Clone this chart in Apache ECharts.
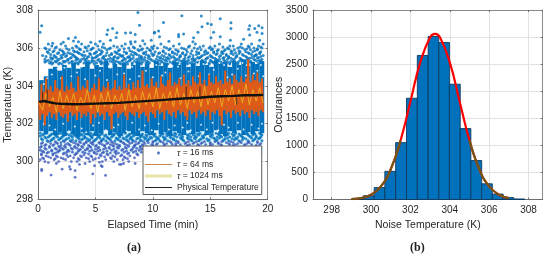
<!DOCTYPE html>
<html><head><meta charset="utf-8">
<style>html,body{margin:0;padding:0;background:#fff}#c{width:550px;height:259px}</style>
<script src="https://cdn.jsdelivr.net/npm/echarts@6/dist/echarts.min.js"></script>
</head><body><div id="c"></div>
<script>
// ---------- panel (a): values ----------
// solid part of the 16 ms cloud, one pair of edges per 0.4 min
const coreStep = 0.4;
const coreHigh = [304.3,304.5,304.9,305.0,304.8,305.1,304.95,305.2,304.9,305.0,305.25,304.9,305.1,305.0,305.3,304.95,305.15,305.0,305.2,304.9,305.1,305.25,305.0,305.15,304.95,305.3,305.05,305.2,304.95,305.25,305.1,305.35,305.0,305.2,305.05,305.3,305.1,305.0,305.35,305.15,305.25,305.0,305.3,305.1,305.4,305.05,305.25,305.15,305.3];
const coreLow = [301.6,301.45,301.6,301.4,301.55,301.35,301.6,301.45,301.3,301.55,301.4,301.6,301.35,301.5,301.65,301.4,301.55,301.35,301.5,301.6,301.45,301.35,301.6,301.5,301.4,301.65,301.45,301.55,301.35,301.6,301.5,301.4,301.65,301.45,301.55,301.6,301.4,301.5,301.65,301.45,301.35,301.6,301.5,301.65,301.4,301.55,301.45,301.6,301.5];
// gaps in the solid part
const gapPoints = [[1.2,304.6],[2.3,304.95],[3.4,304.7],[4.6,305.05],[5.4,304.8],[6.3,304.95],[7.5,304.65],[8.2,305.0],[9.4,304.8],[10.3,305.1],[11.1,304.7],[12.2,305.0],[13.1,304.75],[14.4,305.15],[15.3,304.85],[16.2,305.1],[17.4,304.9],[18.3,305.15],[19.1,304.8],[0.8,304.4],[2.9,304.5],[6.9,304.6],[10.8,304.55],[14.9,304.6],[18.8,304.65],
 [1.7,304.9],[3.8,305.0],[5.0,304.55],[7.1,305.05],[8.8,304.5],[9.9,305.0],[11.7,305.05],[12.7,304.5],[13.8,305.15],[15.8,305.2],[16.9,304.6],[17.8,305.2],[19.4,305.1],[0.5,304.1],[2.0,304.4],[4.1,304.35],[6.0,304.3],[8.0,304.35],[10.0,304.45],[12.4,304.4],[14.0,304.5],[16.5,304.45],[18.1,304.55],[19.6,304.5],
 [0.5,302.0],[1.5,301.7],[2.7,301.6],[3.8,301.75],[4.2,301.55],[5.9,301.65],[6.6,301.8],[7.7,301.6],[8.8,301.7],[9.9,301.65],[11.4,301.7],[12.6,301.8],[13.3,301.65],[14.7,301.7],[15.7,301.65],[16.6,301.8],[17.9,301.7],[19.2,301.75],
 [1.0,301.9],[2.2,302],[3.2,301.85],[4.8,301.9],[5.3,302.05],[7.0,301.95],[8.2,302.05],[9.3,301.9],[10.5,302],[11.9,301.9],[13.0,302.05],[14.2,301.95],[15.2,302.05],[16.2,301.95],[17.4,302.05],[18.6,301.95],[19.5,302]];
const upperTemps = [305.2,305.3,305.4,305.5,305.6,305.7,305.8,305.9,306.0,306.1,306.2,
 305.15,305.25,305.35,305.45,305.55,305.65,305.75,305.85,305.95,306.05];
const upperTimes = [
 [1.0,1.3,1.9,2.7,3.2,3.4,4.0,4.5,5.1,5.6,5.9,6.7,7.1,7.5,8.2,8.9,9.4,9.7,10.4,11.0,11.7,12.2,12.9,13.2,13.8,14.5,14.9,15.3,16.0,16.7,17.4,17.8,18.1,18.7,19.3],
 [0.7,1.5,2.2,2.4,3.0,3.7,4.4,4.9,5.5,6.3,6.8,7.3,7.9,8.4,8.7,9.5,10.1,10.7,11.2,11.8,12.5,13.0,13.6,14.2,14.4,15.1,15.7,16.3,16.8,17.5,18.0,18.5,19.1,19.4],
 [0.6,1.2,1.8,2.6,3.5,3.8,4.2,5.3,5.8,6.1,6.5,7.6,8.1,8.6,9.1,9.8,10.3,10.9,11.4,12.1,12.7,13.4,13.7,14.6,15.5,15.8,16.5,17.0,17.7,18.3,18.8,19.5],
 [1.1,1.6,2.1,2.9,3.3,4.3,4.7,5.0,5.7,6.6,7.0,7.8,8.0,9.0,9.3,10.6,11.3,11.6,12.3,13.1,13.9,14.1,14.8,15.2,16.2,16.6,17.2,18.2,18.6,19.2],
 [0.4,1.4,2.0,2.5,3.1,3.9,4.1,5.2,5.9,6.2,7.2,7.4,8.3,8.8,9.6,10.0,10.8,11.5,12.4,12.8,13.5,14.3,15.0,15.9,16.4,17.3,17.9,18.9,19.0,19.6],
 [1.7,2.3,2.8,3.6,4.5,4.9,5.5,6.4,6.9,7.7,8.5,9.2,9.9,10.5,11.1,11.9,12.6,13.3,14.0,14.7,15.6,16.1,16.8,17.5,18.4,19.3],
 [0.8,1.3,2.2,3.2,3.4,4.0,5.1,5.6,6.7,7.5,8.2,9.4,10.2,10.9,11.7,12.2,13.0,13.8,14.5,15.3,16.0,16.9,17.6,18.1,18.7,19.4],
 [1.0,1.9,2.7,3.7,4.6,5.3,6.0,7.1,8.7,9.0,9.7,11.4,12.0,12.9,14.2,15.1,15.7,16.3,17.1,18.0,18.5,19.1],
 [0.6,1.5,3.0,4.2,4.8,5.8,6.3,7.9,8.4,9.5,10.4,11.2,12.5,13.6,14.9,16.5,17.4,17.8,18.8,19.5],
 [1.2,2.4,3.3,4.4,5.2,6.6,7.3,8.9,10.1,11.8,13.2,14.4,15.4,16.7,17.0,18.3,19.2],
 [0.9,2.0,3.8,5.0,5.7,7.6,8.1,9.3,10.7,12.3,13.7,15.8,17.7,18.6,19.6],
 [1.2,1.8,2.1,3.0,3.5,4.3,4.9,5.5,6.1,6.6,7.2,7.8,8.2,9.0,9.5,10.3,10.6,11.3,12.1,12.5,13.0,13.7,14.2,14.9,15.8,16.3,16.7,17.4,18.3,18.7,19.2],
 [0.6,1.1,1.6,2.3,2.9,3.6,4.2,4.7,5.4,6.0,6.5,7.0,7.7,8.6,9.1,9.6,10.2,10.8,11.5,11.9,12.7,13.4,13.9,14.6,15.2,15.9,16.5,17.0,17.9,18.5,19.5],
 [0.9,1.7,2.6,3.3,4.1,4.7,5.2,5.9,6.6,7.4,8.0,8.9,9.3,9.9,10.5,11.1,12.0,12.3,13.1,13.6,14.3,15.0,15.6,16.2,17.1,17.7,18.2,18.9,19.3],
 [1.3,2.0,2.8,3.4,4.0,4.8,5.6,6.3,6.9,7.5,8.3,8.8,9.6,10.7,11.2,11.9,12.8,13.5,14.0,14.7,15.4,16.1,16.8,17.6,18.4,19.1],
 [0.7,1.5,2.4,3.2,4.4,5.1,5.7,6.7,7.3,7.9,9.0,9.7,10.4,11.0,11.8,12.4,13.2,14.2,15.1,15.8,16.6,17.3,18.1,18.8,19.4],
 [1.1,2.2,3.0,3.8,4.6,5.4,6.4,7.1,8.1,8.6,9.4,10.1,11.4,12.1,12.9,13.8,14.5,15.5,16.4,17.0,17.8,18.6,19.0],
 [0.9,1.8,2.6,3.5,5.0,6.0,6.8,7.7,8.4,9.2,10.6,11.7,12.6,14.0,14.8,15.3,16.0,17.2,18.3,19.3],
 [1.4,2.1,3.1,4.3,5.5,7.0,8.0,8.8,9.8,10.9,12.2,13.4,14.6,15.6,16.2,16.8,17.5,18.9],
 [0.7,2.5,3.6,4.7,6.2,7.5,9.1,10.0,11.5,12.7,13.9,15.2,16.6,18.2,19.1],
 [1.6,3.4,4.1,5.6,6.9,8.3,9.9,11.0,13.1,14.1,15.0,16.1,17.6,18.4,19.4]
];
const lowerTemps = [301.5,301.4,301.3,301.2,301.1,301.0,300.9,300.8,300.7,300.6,300.5,300.4,300.3,300.2,300.1,300.0,
 301.45,301.35,301.25,301.15,301.05,300.95,300.85,300.75,300.65,300.55,300.45,300.35,300.25,300.15];
const lowerTimes = [
 [0.2,0.7,1.4,1.8,2.0,2.9,3.5,4.0,4.6,5.0,5.5,6.3,6.8,7.0,7.6,8.2,8.7,9.6,10.0,10.8,11.2,11.9,12.4,12.8,13.6,14.1,14.9,15.5,16.2,16.6,17.2,17.9,18.2,18.8,19.3],
 [0.4,1.1,1.5,2.3,2.7,3.2,3.8,4.5,4.8,5.4,5.9,6.6,7.3,7.9,8.4,9.0,9.4,10.1,10.7,11.4,11.7,12.3,13.0,13.5,14.0,14.5,15.2,15.8,16.5,17.1,17.6,18.3,18.7,19.5],
 [0.6,0.9,1.7,2.1,3.0,3.4,4.1,4.7,5.2,6.0,6.4,7.1,7.7,8.1,8.9,9.2,9.8,10.3,10.9,11.5,12.1,12.6,13.3,13.8,14.4,15.1,15.6,16.0,16.7,17.4,17.8,18.5,19.0,19.4],
 [0.3,1.3,1.9,2.5,3.6,3.9,4.3,5.1,5.7,6.2,6.9,7.5,8.0,8.6,9.3,9.7,10.5,11.1,11.8,12.5,13.1,13.7,14.2,14.7,15.4,16.3,16.9,17.3,18.1,18.9,19.2],
 [0.8,1.1,2.2,2.8,3.3,4.4,4.9,5.5,5.9,6.7,7.2,7.8,8.3,9.0,9.5,10.2,10.6,11.3,12.0,12.7,13.4,14.0,14.8,15.5,16.1,16.6,17.5,18.3,18.7,19.5],
 [0.4,1.6,2.0,3.1,3.7,4.2,4.6,5.3,6.1,6.5,7.4,8.2,8.8,9.6,10.0,10.9,11.6,12.2,12.9,13.6,14.3,15.0,15.7,16.4,17.0,17.7,18.4,19.1],
 [0.7,1.4,2.4,2.7,3.5,4.0,4.8,5.6,6.3,6.9,7.6,8.5,9.1,9.9,10.3,11.0,11.7,12.4,13.2,13.9,14.6,15.2,15.9,16.7,17.2,18.0,18.6,19.3],
 [0.3,1.0,1.8,2.3,3.2,3.8,4.5,5.0,5.8,6.6,7.1,7.9,8.4,8.9,9.4,10,11,12,13,14,15,16,17,18,19],
 [0.6,1.5,2.1,2.9,3.4,4.3,5.2,5.9,6.2,7.0,7.7,8.6,9.2],
 [0.2,1.2,1.9,2.6,3.6,4.1,4.7,5.4,6.4,7.3,8.1,8.8],
 [0.5,0.9,1.7,2.5,3.0,3.9,4.9,5.7,6.7,7.5,8.3,9.0],
 [0.3,1.3,2.2,3.3,4.4,5.1,6.0,6.8,7.8,8.6],
 [0.7,1.6,2.8,3.7,4.6,5.5,6.5,7.2,8.0],
 [0.4,1.1,2.0,3.1,4.2,5.3,6.3,7.6,8.4],
 [0.2,1.4,2.4,3.6,4.8,5.9,6.9,7.4],
 [0.6,1.8,2.9,3.4,4.5,5.6,6.6,7.9],
 [0.5,1.2,1.7,2.5,3.1,3.7,4.3,4.9,5.6,6.2,6.6,7.3,8.0,8.5,9.1,9.7,10.2,10.9,11.3,12.0,12.6,13.2,13.9,14.6,15.1,15.7,16.4,16.9,17.5,18.2,18.9,19.4],
 [0.2,1.0,1.6,2.2,2.9,3.3,4.0,4.6,5.3,5.8,6.5,7.1,7.8,8.3,9.0,9.5,10.1,10.6,11.2,11.9,12.5,13.1,13.7,14.3,15.0,15.9,16.3,17.0,17.7,18.4,19.0],
 [0.7,1.4,2.0,2.7,3.5,4.1,4.7,5.4,6.1,6.8,7.4,8.1,8.7,9.4,9.9,10.4,11.0,11.6,12.4,13.0,13.6,14.4,15.3,15.8,16.5,17.2,17.9,18.6,19.3],
 [0.4,1.2,1.8,2.4,3.0,3.8,4.5,5.0,5.6,6.3,7.0,7.7,8.2,8.9,9.6,10.3,11.0,11.8,12.6,13.3,14.1,14.9,15.6,16.2,17.1,17.8,18.8],
 [0.9,1.5,2.3,2.9,3.6,4.2,4.8,5.5,6.4,7.2,7.9,8.5,9.2,10.0,10.7,11.5,12.2,13.1,13.8,14.5,15.4,16.0,16.8,17.6,18.3,19.1],
 [0.3,1.1,1.7,2.6,3.3,4.0,4.7,5.4,6.0,6.7,7.5,8.0,8.7,9.3,10.4,11.2,12.0,12.8,13.5,14.2,15.0,15.7,16.6,17.4,18.2,19.4],
 [0.6,1.3,2.0,2.8,3.5,4.4,5.1,5.8,6.5,7.1,7.8,8.4,9.1,10,11,12,13,14,15,16,17,18,19],
 [0.2,1.0,1.9,2.4,3.2,3.9,4.6,5.3,6.2,6.9,7.6,8.3,8.9],
 [0.7,1.6,2.2,3.0,3.7,4.3,5.0,5.7,6.6,7.4,8.2,9.0],
 [0.4,1.2,1.8,2.7,3.5,4.5,5.2,6.0,6.8,7.7,8.5],
 [0.8,1.5,2.3,3.4,4.1,4.9,5.6,6.3,7.0,7.9],
 [0.3,1.3,2.5,3.2,4.0,5.4,6.1,7.3,8.7],
 [0.9,1.7,2.6,3.8,4.7,5.8,6.7,7.5],
 [0.5,1.5,2.2,3.5,4.4,5.0,6.4,7.8]
];
const outliersHigh = [[8.7,307.87],[0.32,307.17],[0.18,306.82],[8.84,307.2],[6.08,306.94],[6.5,307.03],[6,306.71],[6.87,306.8],[7.62,306.78],[8.06,306.8],[8.46,306.71],[10.15,306.82],[3.26,306.55],[2.65,306.5],[3.09,306.36],[3.52,306.33],[1.28,306.24],[6.8,306.55],[6.31,306.41],[8.06,306.33],[8.46,306.33],[9.13,306.38],[9.86,306.41],[12.53,307.69],[14.22,307.68],[10.93,307.34],[14.77,307.29],[15.09,307.24],[14.28,307.12],[15.87,307.54],[16.8,307.33],[16.8,307.03],[13.93,306.82],[15.29,306.82],[18.43,307.17],[19.22,307.17],[18.87,307.03],[19.51,307.06],[18.35,306.99],[19.07,306.82],[18.43,306.68],[19.51,306.76],[10.5,306.89],[10.12,306.78],[12.24,306.71],[12.68,306.73],[12.24,306.59],[10.58,306.59],[15.06,306.54],[15.87,306.59],[16.75,306.41],[13.55,306.54],[13.49,306.33],[17.9,306.45],[19.3,306.4],[11.4,306.35],[4.6,306.3],[2.2,306.3],[5.4,306.35]];
const outliersLow = [[1.14,299.29],[0.32,299.59],[0.32,299.52],[2.1,299.6],[2.74,299.73],[2.82,299.6],[3.23,299.52],[3.23,299.17],[4.77,299.35],[5.88,299.27],[4.92,299.78],[5.5,299.78],[5.59,299.73],[3.61,299.85],[7.24,299.85],[7.45,299.9],[7.1,299.85],[8.46,299.9],[5.35,299.96],[1.6,299.9],[0.9,299.95],[4.1,299.9]];

const orangeStep = 0.1;
const orangeTemps = [303.2,302.2,304.1,302.5,303.7,301.9,304.4,302.4,303.8,302.6,304.0,302.3,303.7,302.5,304.3,302.2,303.9,302.6,303.8,302.4,
 304.5,302.3,303.7,302.5,304.0,302.1,303.8,302.6,304.2,302.4,303.9,302.5,303.7,302.2,304.5,302.6,303.8,302.3,304.0,302.5,
 303.9,302.4,304.3,302.6,303.7,302.0,303.9,302.5,304.1,302.3,303.8,302.6,304.4,302.4,303.7,302.5,304.0,302.2,303.9,302.6,
 304.2,302.4,303.8,301.7,303.9,302.5,304.3,302.6,303.8,302.3,304.0,302.5,303.8,302.6,304.6,302.4,303.9,302.2,304.1,302.6,
 303.8,302.5,304.2,302.4,303.9,302.6,304.3,302.3,303.9,302.5,304.8,302.6,304.0,302.4,304.1,302.1,303.9,302.6,304.4,302.5,
 304.0,302.3,304.2,302.7,303.9,302.5,304.5,302.6,304.1,302.2,304.0,302.7,304.3,302.5,304.7,302.4,304.0,302.6,304.2,302.3,
 304.1,302.7,304.4,302.5,304.0,302.6,304.6,302.4,304.1,302.2,304.3,302.7,304.0,302.5,304.5,302.6,304.2,302.3,304.1,302.7,
 304.7,302.5,304.1,302.6,304.3,302.4,304.0,302.7,304.6,302.2,304.2,302.6,304.1,302.5,304.5,302.7,304.2,302.4,304.3,301.9,
 304.1,302.7,304.8,302.5,304.2,302.6,304.4,302.3,304.1,302.7,304.6,302.5,304.3,302.6,304.2,302.4,304.5,302.7,304.2,302.5,
 304.4,302.6,305.4,302.3,304.2,302.7,304.6,302.5,304.3,302.6,304.7,302.4,304.2,302.7,304.4,302.6];
const yellowStep = 0.3;
const yellowTemps = [303.1,302.7,303.6,302.9,303.4,302.6,303.7,302.8,303.5,302.9,303.6,302.7,303.4,303.0,303.8,302.8,303.5,302.6,303.6,302.9,
 303.7,302.8,303.5,303.0,303.6,302.7,303.8,302.9,303.5,302.8,303.7,303.0,303.6,302.9,303.9,302.8,303.6,303.1,303.7,302.9,
 303.9,303.0,303.6,302.8,303.8,303.1,303.7,302.9,304.0,303.0,303.7,303.1,303.9,302.9,303.8,303.2,304.0,303.0,303.8,303.1,
 304.1,303.0,303.8,303.2,303.9,303.1];
const blackTimes = [0.1,0.5,1.0,1.5,2,3,4,5,6,7,8,9,10,11,12,13,14,15,16,17,18,19,19.6];
const blackTemps = [303.15,303.2,303.13,303.07,303.05,303.03,303.04,303.06,303.08,303.1,303.14,303.18,303.22,303.26,303.3,303.34,303.37,303.42,303.45,303.47,303.5,303.5,303.52];
// short excursions of the physical temperature: [min, from K, to K]
const blackSpikes = [[0.4,303.2,303.7],[0.8,303.15,303.8],[12.9,303.33,303.95],[14.1,303.38,303.95],[17.3,303.48,303.0]];

// ---------- panel (b) ----------
const binEdges = [299.07,299.61,300.16,300.7,301.25,301.8,302.35,302.9,303.44,303.98,304.53,305.07,305.62,306.16,306.71,307.25,307.8];
const binCounts = [20,70,220,520,1050,1870,2660,3010,2900,2130,1310,720,290,100,35,10];
const fitTemps = [299,299.5,300,300.5,301,301.5,302,302.5,303,303.25,303.5,304,304.5,305,305.5,306,306.5,307];
const fitCounts = [7,27,88,241,559,1092,1810,2533,2996,3060,2996,2533,1810,1092,559,241,88,27];

const xTicksB = [298,300,302,304,306,308];
const ink = '#262626', frame = '#6e6e6e', gridCol = '#e2e2e2', font = 'Liberation Sans';
const expand = (temps, times) => temps.flatMap((T, i) => times[i].map(t => [t, T]));
const upperPts = expand(upperTemps, upperTimes).concat(outliersHigh);
const lowerAll = expand(lowerTemps, lowerTimes);
const lowerBlue = lowerAll.filter(p => p[1] >= 301.1);
const lowerIndigo = lowerAll.filter(p => p[1] < 301.1).concat(outliersLow);
const coreBand = coreHigh.map((h, i) => [+(0.1 + i * coreStep).toFixed(2), +(0.1 + (i + 1) * coreStep).toFixed(2), coreLow[i], h]);

const chart = echarts.init(document.getElementById('c'), null, {renderer: 'canvas'});
const frameAxis = (o) => Object.assign({
  axisLine: {show: true, onZero: false, lineStyle: {color: frame, width: 1}},
  axisTick: {show: true, inside: true, length: 2, lineStyle: {color: frame}},
  axisLabel: {color: ink, fontSize: 10, fontFamily: font, margin: 5, formatter: v => String(v)},
  splitLine: {show: true, lineStyle: {color: gridCol, width: 1}},
  nameTextStyle: {color: ink, fontSize: 10.5, fontFamily: font},
  nameLocation: 'middle', nameMoveOverlap: false
}, o);
const mirror = (o) => Object.assign({
  axisLine: {show: true, onZero: false, lineStyle: {color: '#8a8a8a', width: 1}},
  axisTick: {show: true, inside: true, length: 2, lineStyle: {color: frame}},
  axisLabel: {show: false}, splitLine: {show: false}
}, o);
const segRender = (params, api) => {
  const a = api.coord([api.value(0), api.value(2)]), b = api.coord([api.value(1), api.value(3)]);
  return {type: 'rect', shape: {x: a[0], y: b[1], width: b[0] - a[0], height: a[1] - b[1]},
    style: {fill: api.style().fill, stroke: api.style().stroke, lineWidth: api.style().lineWidth}};
};
const seqX = (vals, step) => vals.map((v, i) => [+(0.1 + i * step).toFixed(2), v]);
const tauRich = {t: {fontFamily: 'Liberation Serif', fontStyle: 'italic', fontSize: 9.5, color: ink}};
const ext = 'M0 0h.01v.01zM27 10h.01v.01z';

chart.setOption({
  animation: false,
  backgroundColor: '#fff',
  grid: [{left: 38, top: 10, width: 229.7, height: 189.5}, {left: 313, top: 10, width: 229.7, height: 189.5}],
  xAxis: [
    frameAxis({gridIndex: 0, type: 'value', min: 0, max: 20, interval: 5, name: 'Elapsed Time (min)', nameGap: 20}),
    frameAxis({gridIndex: 1, type: 'value', min: 297.05, max: 308.72, name: 'Noise Temperature (K)', nameGap: 20,
      axisTick: {show: true, inside: true, length: 2, lineStyle: {color: frame}, customValues: xTicksB},
      axisLabel: {color: ink, fontSize: 10, fontFamily: font, margin: 6, customValues: xTicksB, formatter: v => String(v)}}),
    mirror({gridIndex: 0, type: 'value', position: 'top', min: 0, max: 20, interval: 5}),
    mirror({gridIndex: 1, type: 'value', position: 'top', min: 297.05, max: 308.72,
      axisTick: {show: true, inside: true, length: 2, lineStyle: {color: frame}, customValues: xTicksB}})
  ],
  yAxis: [
    frameAxis({gridIndex: 0, type: 'value', min: 298, max: 308, interval: 2, name: 'Temperature (K)', nameGap: 24}),
    frameAxis({gridIndex: 1, type: 'value', min: 0, max: 3500, interval: 500, name: 'Occurances', nameGap: 28}),
    mirror({gridIndex: 0, type: 'value', position: 'right', min: 298, max: 308, interval: 2}),
    mirror({gridIndex: 1, type: 'value', position: 'right', min: 0, max: 3500, interval: 500})
  ],
  legend: {
    left: 143, top: 146, orient: 'vertical', padding: [2, 3, 2, 2], itemGap: 1.5, itemWidth: 27, itemHeight: 10,
    backgroundColor: '#fff', borderColor: '#5a5a5a', borderWidth: 1, borderRadius: 0,
    textStyle: {color: ink, fontSize: 8.5, fontFamily: font, rich: tauRich},
    formatter: n => n.replace('τ', '{t|τ}'),
    data: [
      {name: 'τ = 16 ms', icon: 'path://' + ext + 'M12 5a1.5 1.5 0 1 0 3 0a1.5 1.5 0 1 0 -3 0z', itemStyle: {color: '#2f55b5'}},
      {name: 'τ = 64 ms', icon: 'path://' + ext + 'M0 4.5h27v1h-27z', itemStyle: {color: '#c9874f'}},
      {name: 'τ = 1024 ms', icon: 'path://' + ext + 'M0 3.5h27v3h-27z', itemStyle: {color: '#e8e4a6'}},
      {name: 'Physical Temperature', icon: 'path://' + ext + 'M0 4.4h27v1.2h-27z', itemStyle: {color: '#222'}}
    ]
  },
  series: [
    {type: 'custom', name: 'core', xAxisIndex: 0, yAxisIndex: 0, silent: true, z: 1, renderItem: segRender, data: coreBand,
      itemStyle: {color: '#0072BD'}, encode: {x: [0, 1], y: [2, 3]},
      markArea: {silent: true, itemStyle: {color: '#dff8fc'}, data: [[{coord: [0.1, 300.4]}, {coord: [19.6, 301.6]}]]}},
    {type: 'scatter', name: 'τ = 16 ms', xAxisIndex: 0, yAxisIndex: 0, z: 2, symbolSize: 3, itemStyle: {color: '#0072BD'}, data: upperPts.concat(lowerBlue)},
    {type: 'scatter', name: 'indigo', xAxisIndex: 0, yAxisIndex: 0, z: 2, symbolSize: 2.8, itemStyle: {color: '#3a58ba'}, data: lowerIndigo},
    {type: 'scatter', name: 'gaps', xAxisIndex: 0, yAxisIndex: 0, silent: true, z: 2.5, symbolSize: 2, itemStyle: {color: '#fff'}, data: gapPoints},
    {type: 'line', name: 'τ = 64 ms', xAxisIndex: 0, yAxisIndex: 0, z: 3, showSymbol: false, symbol: 'none', lineStyle: {color: '#DE5A18', width: 1.9}, data: seqX(orangeTemps, orangeStep)},
    {type: 'line', name: 'τ = 1024 ms', xAxisIndex: 0, yAxisIndex: 0, z: 3.1, showSymbol: false, symbol: 'none', lineStyle: {color: '#EDB120', width: 0.9}, data: seqX(yellowTemps, yellowStep)},
    {type: 'line', name: 'Physical Temperature', xAxisIndex: 0, yAxisIndex: 0, z: 3.2, showSymbol: false, symbol: 'none', lineStyle: {color: '#111', width: 2.4}, data: blackTimes.map((t, i) => [t, blackTemps[i]])},
    {type: 'line', name: 'spikes', xAxisIndex: 0, yAxisIndex: 0, z: 3.2, showSymbol: false, symbol: 'none', connectNulls: false, lineStyle: {color: '#222', width: 0.8},
      data: blackSpikes.flatMap(s => [[s[0], s[1]], [s[0], s[2]], [s[0], '-']])},
    {type: 'custom', name: 'hist', xAxisIndex: 1, yAxisIndex: 1, z: 2, renderItem: segRender,
      data: binCounts.map((c, i) => [binEdges[i], binEdges[i + 1], 0, c]), encode: {x: [0, 1], y: [2, 3]},
      itemStyle: {color: '#0072BD', borderColor: '#0d3a5e', borderWidth: 0.9}},
    {type: 'line', name: 'fit', xAxisIndex: 1, yAxisIndex: 1, z: 3, smooth: true, showSymbol: false, symbol: 'none', lineStyle: {color: '#f00', width: 2.2}, data: fitTemps.map((t, i) => [t, fitCounts[i]])},
    {type: 'line', name: 'fitLowLeft', xAxisIndex: 1, yAxisIndex: 1, z: 3.1, smooth: true, showSymbol: false, symbol: 'none', lineStyle: {color: '#6d5a14', width: 2}, data: fitTemps.slice(0, 6).map((t, i) => [t, fitCounts[i]])},
    {type: 'line', name: 'fitLowRight', xAxisIndex: 1, yAxisIndex: 1, z: 3.1, smooth: true, showSymbol: false, symbol: 'none', lineStyle: {color: '#6d5a14', width: 2}, data: fitTemps.slice(13).map((t, i) => [t, fitCounts[i + 13]])}
  ],
  graphic: [
    {type: 'text', left: 127, top: 242, style: {text: '(a)', font: 'bold 12px "Liberation Serif"', fill: '#222'}},
    {type: 'text', left: 410, top: 242, style: {text: '(b)', font: 'bold 12px "Liberation Serif"', fill: '#222'}}
  ]
});
</script></body></html>
